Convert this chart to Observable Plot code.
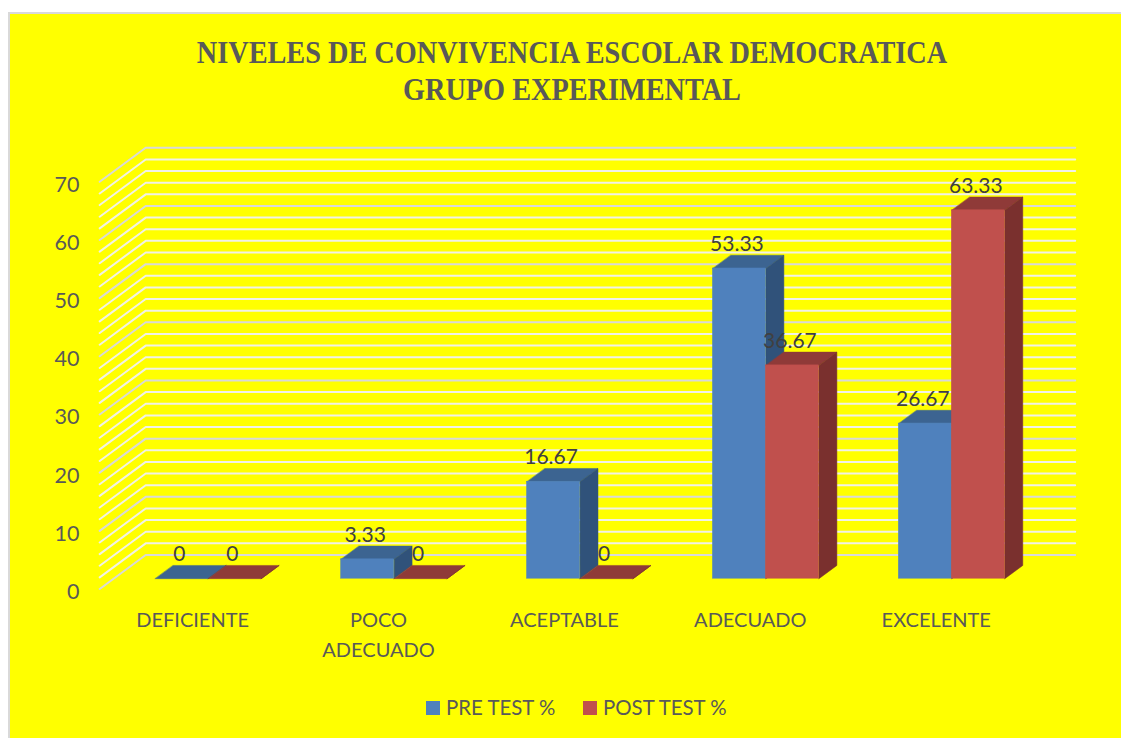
<!DOCTYPE html>
<html lang="es">
<head>
<meta charset="utf-8">
<script src="https://cdn.jsdelivr.net/npm/d3@7"></script>
<script src="https://cdn.jsdelivr.net/npm/@observablehq/plot@0.6"></script>
<style>
html,body{margin:0;padding:0;background:#fff;overflow:hidden;width:1121px;height:738px}
#card{position:absolute;left:8px;top:12px;width:1111px;height:724px;border-left:2px solid #D9D9D9;border-top:2px solid #D9D9D9;background:#FFFF00;overflow:hidden}
#title{height:116px;box-sizing:border-box;padding:20px 0 0 13px;margin:0;text-align:center;font:700 31px/37px "Liberation Serif",serif;color:#595959;transform:scaleX(0.912);transform-origin:562px 0}
#chart svg{display:block}
#legend{position:absolute;left:0;top:684px;font:20.4px "Lato",sans-serif;color:#595959;height:24px;width:100%}
#legend span{position:absolute;top:-2px;white-space:nowrap;line-height:22px}
#legend i{position:absolute;top:3px;width:14px;height:14px}
</style>
</head>
<body>
<div id="card">
<h1 id="title">NIVELES DE CONVIVENCIA ESCOLAR DEMOCRATICA<br>GRUPO EXPERIMENTAL</h1>
<div id="chart"></div>
<div id="legend">
<i style="left:416px;background:#4F81BD"></i><span style="left:436px">PRE TEST %</span>
<i style="left:573px;background:#C0504D"></i><span style="left:593px">POST TEST %</span>
</div>
</div>
<script>
const categories = ["DEFICIENTE", "POCO\nADECUADO", "ACEPTABLE", "ADECUADO", "EXCELENTE"];
const preTest = [0, 3.33, 16.67, 53.33, 26.67];
const postTest = [0, 0, 0, 36.67, 63.33];
const yTicks = [0, 10, 20, 30, 40, 50, 60, 70];
const gridValues = d3.range(0, 71, 2);

// Oblique projection: depth z (0 front of floor, 1 back wall) shifts x and y.
const kx = 46 / 185.9, ky = 34 / 5.817;
const zFront = 0.303, zBack = 0.693;
const barW = 53 / 185.9, shift = 0.0089;

const bars = (vals, name, offset, front, top, side) => vals.map((v, i) => {
  const x1 = i + 0.5 + shift + offset * barW + zFront * kx;
  const x2 = x1 + barW;
  const y0 = zFront * ky;
  return {name, i, v, x1, x2, y1: y0, y2: y0 + v, front, top, side};
});
const pre = bars(preTest, "PRE TEST %", -1, "#4F81BD", "#3C6491", "#30527A");
const post = bars(postTest, "POST TEST %", 0, "#C0504D", "#8F3A38", "#7A302E");

const faces = rows => rows.flatMap(b => {
  const dx = (zBack - zFront) * kx, dy = (zBack - zFront) * ky;
  const t = `${b.name}-${b.i}-top`, s = `${b.name}-${b.i}-side`;
  return [
    {id: t, fill: b.top, x: b.x1, y: b.y2},
    {id: t, fill: b.top, x: b.x2, y: b.y2},
    {id: t, fill: b.top, x: b.x2 + dx, y: b.y2 + dy},
    {id: t, fill: b.top, x: b.x1 + dx, y: b.y2 + dy},
    {id: s, fill: b.side, x: b.x2, y: b.y1},
    {id: s, fill: b.side, x: b.x2 + dx, y: b.y1 + dy},
    {id: s, fill: b.side, x: b.x2 + dx, y: b.y2 + dy},
    {id: s, fill: b.side, x: b.x2, y: b.y2}
  ];
});

const grid = gridValues.flatMap(v => [
  {v, x: 0, y: v},
  {v, x: kx, y: v + ky},
  {v, x: 5 + kx, y: v + ky}
]);
const isMajor = d => d.v % 10 === 0;

const faceMark = rows => Plot.line(faces(rows), {
  x: "x", y: "y", z: "id", fill: "fill", stroke: "fill", strokeWidth: 0.5, curve: "linear-closed"
});
const frontMark = rows => Plot.rect(rows, {
  x1: "x1", x2: "x2", y1: "y1", y2: "y2", fill: "front", stroke: "front", strokeWidth: 0.5
});
const labelMark = rows => Plot.text(rows, {
  x: d => (d.x1 + d.x2) / 2, y: "y2", text: d => String(d.v),
  dx: -2.5, dy: -24.5, fontSize: 21, fontFamily: "Lato", fill: "#404040"
});

const chart = Plot.plot({
  width: 1111,
  height: 554,
  marginLeft: 90,
  marginRight: 91,
  marginTop: 40,
  marginBottom: 95,
  style: {background: "transparent", fontFamily: "Lato", overflow: "visible"},
  x: {type: "linear", domain: [0, 5], range: [89.2, 1018.7]},
  y: {type: "linear", domain: [0, 70], range: [458.5, 51.3]},
  marks: [
    Plot.line(grid.filter(d => !isMajor(d)), {x: "x", y: "y", z: "v", stroke: "#F1F1E8", strokeWidth: 2, curve: "linear"}),
    Plot.line(grid.filter(isMajor), {x: "x", y: "y", z: "v", stroke: "#D9D9D9", strokeWidth: 2, curve: "linear"}),
    faceMark(pre), frontMark(pre),
    faceMark(post), frontMark(post),
    labelMark(pre), labelMark(post),
    Plot.axisY({ticks: yTicks, anchor: "left", tickSize: 0, tickPadding: 21, fontSize: 21.5, dy: 3, color: "#595959", label: null}),
    Plot.axisX({
      ticks: categories.map((_, i) => i + 0.5),
      tickFormat: (_, i) => categories[i],
      anchor: "bottom", tickSize: 0, tickPadding: 17, fontSize: 20, lineHeight: 1.47,
      color: "#595959", label: null, textAnchor: "middle", lineAnchor: "top"
    })
  ]
});
document.getElementById("chart").appendChild(chart);
</script>
</body>
</html>
